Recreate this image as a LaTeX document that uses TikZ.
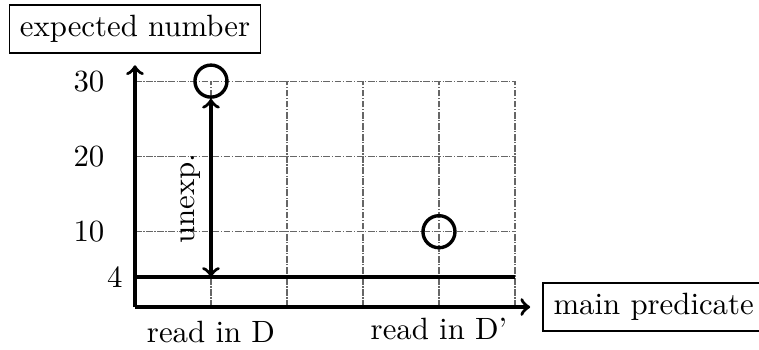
\documentclass[tikz,border=0pt]{standalone}
\usetikzlibrary{arrows}
\begin{document}
\begin{tikzpicture}[x=24.675pt,y=2.445pt,
  gridline/.style={line width=0.35pt,black!60,dash pattern=on 2.2pt off 0.5pt on 0.4pt off 0.5pt},
  axisline/.style={line width=1.1pt,->},
  boxlabel/.style={draw,line width=0.5pt,inner sep=3.33pt},
  ptmark/.style={circle,draw,line width=1.1pt,minimum size=10.4pt,inner sep=0pt},
  ticklabel/.style={left,inner sep=3.33pt}]
\useasboundingbox (-1.776,-5.578) rectangle (8.211,40.77);
% grid
\foreach \yy in {10,20,30} \draw[gridline] (0,\yy) -- (5,\yy);
\foreach \xx in {1,...,5} \draw[gridline] (\xx,0) -- (\xx,30);
% threshold line
\draw[line width=1.1pt] (0,4) -- (5,4);
% axes
\coordinate (O) at (0,0);
\coordinate (xend) at (5.2,0);
\coordinate (yend) at (0,32.1);
\draw[axisline] (O) -- (xend);
\draw[axisline] (O) -- (yend);
\node[boxlabel,anchor=south,yshift=3.8pt] (ylab) at (yend) {expected number};
\node[boxlabel,anchor=west,xshift=4pt] (xlab) at (xend) {main predicate};
% tick labels
\node[ticklabel] (t30) at (-0.26,30) {30};
\node[ticklabel] (t20) at (-0.26,20) {20};
\node[ticklabel] (t10) at (-0.26,10) {10};
\node[ticklabel] (t4) at (-0.02,4) {4};
\node[below,yshift=-1.2pt] (lD) at (1,0) {read in D};
\node[below,yshift=0pt] (lDp) at (4,0) {read in D'};
% points
\node[ptmark] (p1) at (1,30) {};
\node[ptmark] (p2) at (4,10) {};
% unexplained arrow
\coordinate (b4) at (1,4);
\draw[line width=1.1pt,<->] (p1.south) -- (b4)
  node[pos=0.56,above,rotate=90,inner sep=3pt] (unexp) {unexp.};
\end{tikzpicture}
\end{document}
